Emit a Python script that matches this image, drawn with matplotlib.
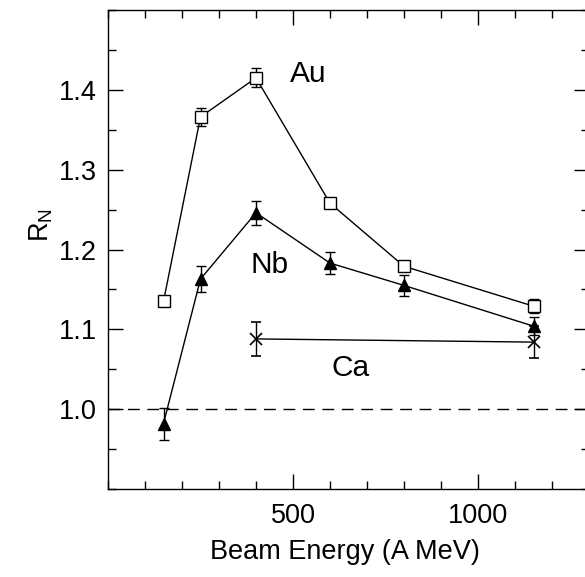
import numpy as np
import matplotlib
matplotlib.use('Agg')
import matplotlib.pyplot as plt
from matplotlib.ticker import MultipleLocator, FormatStrFormatter

plt.rcParams['font.family'] = ['Liberation Sans', 'DejaVu Sans']
plt.rcParams['mathtext.default'] = 'regular'

# R_N vs beam energy for three systems (nan = error smaller than the marker)
energy_au = [150, 250, 400, 600, 800, 1150]
rn_au = [1.135, 1.366, 1.415, 1.258, 1.179, 1.129]
err_au = [np.nan, 0.011, 0.012, np.nan, np.nan, 0.009]

energy_nb = [150, 250, 400, 600, 800, 1150]
rn_nb = [0.982, 1.163, 1.246, 1.183, 1.155, 1.104]
err_nb = [0.02, 0.016, 0.015, 0.014, 0.013, 0.011]

energy_ca = [400, 1150]
rn_ca = [1.088, 1.084]
err_ca = [0.021, 0.02]

fig = plt.figure(figsize=(5.85, 5.77), dpi=100)
# right edge of the frame sits just past the figure border
ax = fig.add_axes([108/585, 88/577, 481/585, 479/577])

ax.errorbar(energy_au, rn_au, yerr=err_au, color='black', lw=1.0,
            marker='s', ms=8, mfc='white', mec='black', mew=1.0,
            capsize=3.5, elinewidth=1.0, capthick=1.0)
ax.errorbar(energy_nb, rn_nb, yerr=err_nb, color='black', lw=1.0,
            marker='^', ms=8, mfc='black', mec='black',
            capsize=3.5, elinewidth=1.0, capthick=1.0)
ax.errorbar(energy_ca, rn_ca, yerr=err_ca, color='black', lw=1.0,
            marker='x', ms=9, mew=1.2,
            capsize=3.5, elinewidth=1.0, capthick=1.0)

ax.axhline(1.0, color='black', lw=1.0, ls=(0, (8.5, 5.5)))

ax.text(492, 1.410, 'Au', fontsize=21.5, ha='left', va='baseline')
ax.text(386, 1.171, 'Nb', fontsize=21.5, ha='left', va='baseline')
ax.text(605, 1.042, 'Ca', fontsize=21.5, ha='left', va='baseline')

ax.set_xlim(0, 1300)
ax.set_ylim(0.9, 1.5)
ax.xaxis.set_minor_locator(MultipleLocator(100))
ax.yaxis.set_minor_locator(MultipleLocator(0.05))
ax.set_xticks([500, 1000])
ax.set_yticks([1.0, 1.1, 1.2, 1.3, 1.4])
ax.yaxis.set_major_formatter(FormatStrFormatter('%.1f'))

ax.tick_params(which='both', direction='in', top=True, right=True, labelsize=19.5, width=1.0)
ax.tick_params(which='major', length=11)
ax.tick_params(which='minor', length=6)
ax.tick_params(axis='x', pad=10)
ax.tick_params(axis='y', pad=8)
for s in ax.spines.values():
    s.set_linewidth(1.0)

ax.set_xlabel('Beam Energy (A MeV)', fontsize=19.5)
ax.xaxis.set_label_coords((345-108)/481, -50/479)
ax.set_ylabel('R$_N$', fontsize=19.5)
ax.yaxis.set_label_coords(-53/481, (489-225)/479)

fig.savefig('out.png', dpi=100)
